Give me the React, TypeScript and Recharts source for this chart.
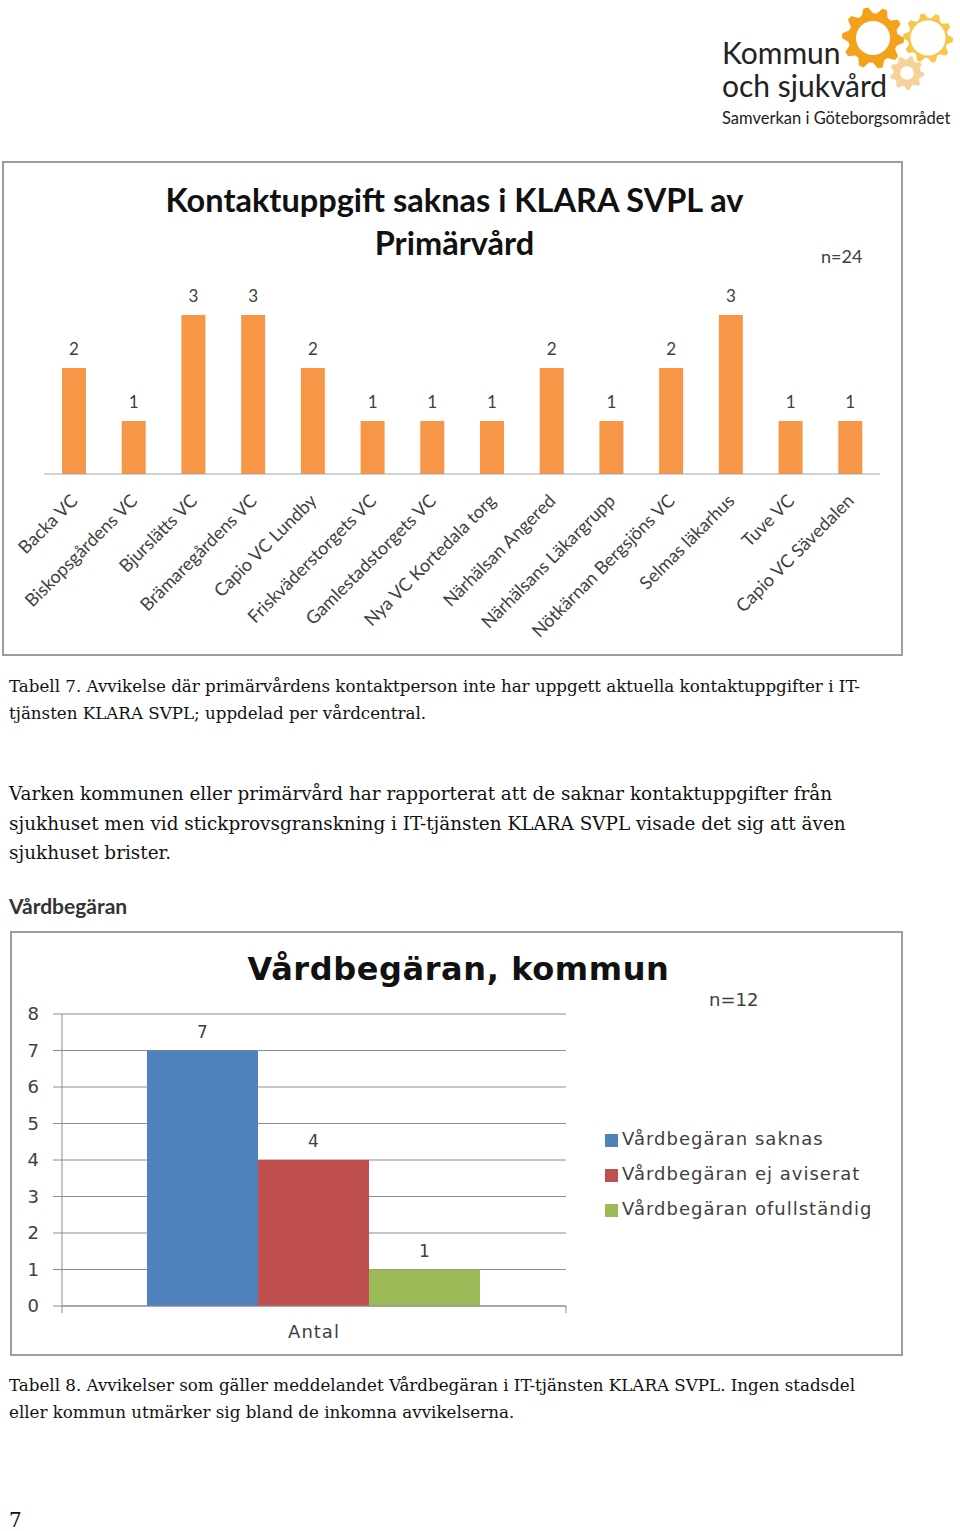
import { BarChart, Bar, XAxis, YAxis, CartesianGrid, LabelList, Legend } from 'recharts'

// Chart 1: Kontaktuppgift saknas i KLARA SVPL av Primärvård
const vardcentraler = [
  'Backa VC',
  'Biskopsgårdens VC',
  'Bjurslätts VC',
  'Brämaregårdens VC',
  'Capio VC Lundby',
  'Friskväderstorgets VC',
  'Gamlestadstorgets VC',
  'Nya VC Kortedala torg',
  'Närhälsan Angered',
  'Närhälsans Läkargrupp',
  'Nötkärnan Bergsjöns VC',
  'Selmas läkarhus',
  'Tuve VC',
  'Capio VC Sävedalen',
]
const antalSaknas = [2, 1, 3, 3, 2, 1, 1, 1, 2, 1, 2, 3, 1, 1]

// Chart 2: Vårdbegäran, kommun
const kategori2 = ['Antal']
const vbSaknas = [7]
const vbEjAviserat = [4]
const vbOfullstandig = [1]
const yTicks2 = [0, 1, 2, 3, 4, 5, 6, 7, 8]
const legendOrder = ['Vårdbegäran saknas', 'Vårdbegäran ej aviserat', 'Vårdbegäran ofullständig']

const chart1Data = vardcentraler.map((name, i) => ({ name, value: antalSaknas[i] }))
const chart2Data = kategori2.map((name, i) => ({
  name,
  saknas: vbSaknas[i],
  ejAviserat: vbEjAviserat[i],
  ofullstandig: vbOfullstandig[i],
}))

const CAL = 'Lato, "Open Sans", sans-serif'
const SERIF = '"DejaVu Serif", "Liberation Serif", serif'
const WIDE = '"DejaVu Sans", Verdana, sans-serif'

function RotatedTick(props: any) {
  const { x, y, payload } = props
  const ax = x + 5
  const ay = y + 20
  return (
    <text
      x={ax}
      y={ay}
      textAnchor="end"
      fontFamily={CAL}
      fontSize={18}
      fill="#404040"
      transform={`rotate(-45, ${ax}, ${ay})`}
    >
      {payload.value}
    </text>
  )
}

function AntalTick(props: any) {
  const { x, y, payload } = props
  const half = 252
  return (
    <g>
      <line x1={x - half} x2={x - half} y1={y - 8} y2={y - 1} stroke="#8c8c8c" />
      <line x1={x + half} x2={x + half} y1={y - 8} y2={y - 1} stroke="#8c8c8c" />
      <text x={x} y={y + 24} textAnchor="middle" fontFamily={WIDE} fontSize={18} letterSpacing={1} fill="#404040">
        {payload.value}
      </text>
    </g>
  )
}

function Gear({ cx, cy, r, color, teeth, hole }: any) {
  const pts: string[] = []
  const n = teeth * 2
  for (let i = 0; i < n * 2; i++) {
    const a = (i / (n * 2)) * Math.PI * 2
    const rr = Math.floor(i / 2) % 2 === 0 ? r : r * 0.8
    pts.push(`${cx + rr * Math.cos(a)},${cy + rr * Math.sin(a)}`)
  }
  return (
    <g>
      <polygon points={pts.join(' ')} fill={color} />
      <circle cx={cx} cy={cy} r={r * hole} fill="#fff" />
    </g>
  )
}

export default function App() {
  return (
    <div style={{ position: 'absolute', left: 0, top: 0, width: 960, height: 1531, background: '#fff' }}>
      {/* logo */}
      <svg style={{ position: 'absolute', left: 820, top: 0 }} width={140} height={100}>
        <Gear cx={53} cy={38} r={31} color="#f4a21c" teeth={10} hole={0.55} />
        <Gear cx={108} cy={38} r={25} color="#f8c64a" teeth={10} hole={0.7} />
        <Gear cx={87} cy={73} r={17} color="#f6d29a" teeth={9} hole={0.4} />
      </svg>
      <div style={{ position: 'absolute', left: 722, top: 36, fontFamily: CAL, fontSize: 30, lineHeight: '33px', color: '#222' }}>
        Kommun
        <br />
        och sjukvård
      </div>
      <div style={{ position: 'absolute', left: 722, top: 108, fontFamily: CAL, fontSize: 16.5, color: '#222' }}>
        Samverkan i Göteborgsområdet
      </div>

      {/* chart 1 */}
      <div
        style={{
          position: 'absolute',
          left: 2,
          top: 161,
          width: 901,
          height: 495,
          border: '2px solid #9c9c9c',
          boxSizing: 'border-box',
        }}
      >
        <div
          style={{
            position: 'absolute',
            left: 0,
            width: 901,
            top: 15,
            textAlign: 'center',
            fontFamily: CAL,
            fontWeight: 700,
            fontSize: 32.5,
            lineHeight: '43px',
            color: '#111',
          }}
        >
          Kontaktuppgift saknas i KLARA SVPL av
          <br />
          Primärvård
        </div>
        <div style={{ position: 'absolute', left: 817, top: 82, fontFamily: CAL, fontSize: 18, color: '#404040' }}>
          n=24
        </div>
        <div style={{ position: 'absolute', left: -2, top: -2 }}>
          <BarChart width={901} height={495} data={chart1Data} margin={{ top: 101, right: 23, bottom: 0, left: 42 }}>
            <YAxis hide domain={[0, 4]} />
            <XAxis
              dataKey="name"
              interval={0}
              height={182}
              tickLine={false}
              axisLine={{ stroke: '#a6a6a6' }}
              tick={<RotatedTick />}
            />
            <Bar dataKey="value" fill="#f79646" barSize={24} isAnimationActive={false}>
              <LabelList dataKey="value" position="top" offset={13} fontSize={17} fill="#404040" fontFamily={CAL} />
            </Bar>
          </BarChart>
        </div>
      </div>

      <div
        style={{
          position: 'absolute',
          left: 9,
          top: 673,
          fontFamily: SERIF,
          fontSize: 16.7,
          lineHeight: '27px',
          color: '#111',
          whiteSpace: 'nowrap',
        }}
      >
        Tabell 7. Avvikelse där primärvårdens kontaktperson inte har uppgett aktuella kontaktuppgifter i IT-
        <br />
        tjänsten KLARA SVPL; uppdelad per vårdcentral.
      </div>

      <div
        style={{
          position: 'absolute',
          left: 9,
          top: 779,
          fontFamily: SERIF,
          fontSize: 18.4,
          lineHeight: '29.5px',
          color: '#111',
          whiteSpace: 'nowrap',
        }}
      >
        Varken kommunen eller primärvård har rapporterat att de saknar kontaktuppgifter från
        <br />
        sjukhuset men vid stickprovsgranskning i IT-tjänsten KLARA SVPL visade det sig att även
        <br />
        sjukhuset brister.
      </div>

      <div style={{ position: 'absolute', left: 9, top: 893, fontFamily: CAL, fontWeight: 700, fontSize: 21, color: '#333' }}>
        Vårdbegäran
      </div>

      {/* chart 2 */}
      <div
        style={{
          position: 'absolute',
          left: 10,
          top: 931,
          width: 893,
          height: 425,
          border: '2px solid #9c9c9c',
          boxSizing: 'border-box',
        }}
      >
        <div
          style={{
            position: 'absolute',
            left: 0,
            width: 893,
            top: 17,
            textAlign: 'center',
            fontFamily: WIDE,
            fontWeight: 700,
            fontSize: 32,
            letterSpacing: 0.6,
            color: '#111',
          }}
        >
          Vårdbegäran, kommun
        </div>
        <div style={{ position: 'absolute', left: 697, top: 56, fontFamily: WIDE, fontSize: 18, color: '#404040' }}>
          n=12
        </div>
        <div style={{ position: 'absolute', left: -2, top: -2 }}>
          <BarChart
            width={893}
            height={425}
            data={chart2Data}
            margin={{ top: 83, right: 337, bottom: 0, left: 0 }}
            barCategoryGap={85}
            barGap={0}
          >
            <CartesianGrid vertical={false} stroke="#8c8c8c" />
            <YAxis
              domain={[0, 8]}
              ticks={yTicks2}
              width={52}
              tickSize={9}
              tickMargin={14}
              interval={0}
              axisLine={{ stroke: '#8c8c8c' }}
              tickLine={{ stroke: '#8c8c8c' }}
              tick={{ fontFamily: WIDE, fontSize: 18, fill: '#404040' }}
            />
            <XAxis
              dataKey="name"
              height={50}
              tickLine={false}
              axisLine={{ stroke: '#8c8c8c' }}
              tick={<AntalTick />}
            />
            <Legend
              layout="vertical"
              align="center"
              verticalAlign="middle"
              iconType="square"
              iconSize={13}
              itemSorter={(item: any) => legendOrder.indexOf(item.value)}
              wrapperStyle={{
                left: 595,
                top: 190,
                width: 290,
                fontFamily: WIDE,
                fontSize: 18,
                letterSpacing: 1,
                lineHeight: '35px',
              }}
              formatter={(v: string) => <span style={{ color: '#404040' }}>{v}</span>}
            />
            <Bar dataKey="saknas" name="Vårdbegäran saknas" fill="#4f81bd" isAnimationActive={false}>
              <LabelList dataKey="saknas" position="top" offset={13} fontSize={17} fill="#404040" fontFamily={WIDE} />
            </Bar>
            <Bar dataKey="ejAviserat" name="Vårdbegäran ej aviserat" fill="#c0504d" isAnimationActive={false}>
              <LabelList dataKey="ejAviserat" position="top" offset={13} fontSize={17} fill="#404040" fontFamily={WIDE} />
            </Bar>
            <Bar dataKey="ofullstandig" name="Vårdbegäran ofullständig" fill="#9bbb59" isAnimationActive={false}>
              <LabelList dataKey="ofullstandig" position="top" offset={13} fontSize={17} fill="#404040" fontFamily={WIDE} />
            </Bar>
          </BarChart>
        </div>
      </div>

      <div
        style={{
          position: 'absolute',
          left: 9,
          top: 1372,
          fontFamily: SERIF,
          fontSize: 16.7,
          lineHeight: '27px',
          color: '#111',
          whiteSpace: 'nowrap',
        }}
      >
        Tabell 8. Avvikelser som gäller meddelandet Vårdbegäran i IT-tjänsten KLARA SVPL. Ingen stadsdel
        <br />
        eller kommun utmärker sig bland de inkomna avvikelserna.
      </div>

      <div style={{ position: 'absolute', left: 9, top: 1508, fontFamily: SERIF, fontSize: 20, color: '#111' }}>7</div>
    </div>
  )
}
